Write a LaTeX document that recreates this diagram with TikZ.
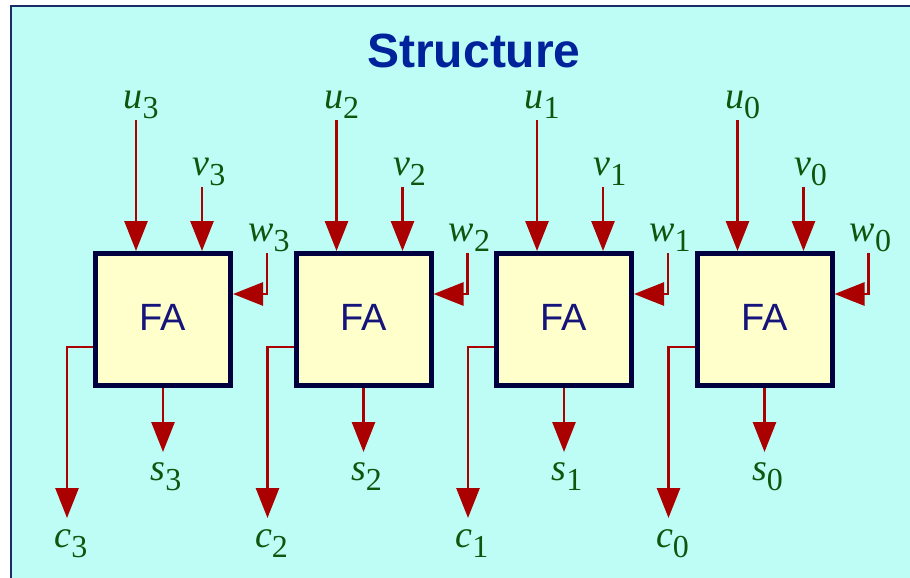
\documentclass[tikz,border=0pt]{standalone}
\usepackage{fontspec}
\setmainfont{Liberation Serif}
\setsansfont{Liberation Sans}
\usetikzlibrary{arrows.meta,positioning,calc}
\definecolor{panel}{HTML}{BDFDF6}
\definecolor{frameblue}{HTML}{1C2C66}
\definecolor{navy}{HTML}{000040}
\definecolor{boxfill}{HTML}{FFFFCC}
\definecolor{fatext}{HTML}{14147A}
\definecolor{titleblue}{HTML}{00229A}
\definecolor{wirered}{HTML}{AA0000}
\definecolor{siggreen}{HTML}{0E560E}
\newcommand{\sigl}[2]{\textit{#1}\raisebox{-0.27em}{\fontsize{32}{32}\selectfont #2}}
\tikzset{
  fabox/.style   ={draw=navy,line width=5,fill=boxfill,minimum width=135,
                   minimum height=132,inner sep=0,text=fatext,
                   font=\sffamily\fontsize{38}{40}\selectfont},
  siglbl/.style  ={inner sep=1,text=siggreen,font=\fontsize{38}{40}\selectfont},
  wire/.style    ={-{Triangle[length=30,width=23]},line width=2.7,draw=wirered},
  titletext/.style={text=titleblue,font=\sffamily\bfseries\fontsize{48}{50}\selectfont}
}
\begin{document}
\begin{tikzpicture}[x=1pt,y=1pt]
    \useasboundingbox (0,0) rectangle (910,-578);
    % panel
    \path[fill=panel,draw=frameblue,line width=2.5] (11,-6) rectangle (940,-610);
    \node[titletext] (ttl) at (474,-51) {Structure};
    % one full adder per bit, left to right: bit 3 .. bit 0
    \foreach \i/\k in {0/3,1/2,2/1,3/0} {
      \node[fabox] (fa\k) at (163+200.5*\i,-319.5) {\raisebox{4pt}{FA}};
      % inputs
      \coordinate (uin\k) at ($(fa\k.north)+(-27,131)$);
      \coordinate (vin\k) at ($(fa\k.north)+(39,64)$);
      \coordinate (win\k) at ($(fa\k.north)+(104,-2)$);
      \node[siglbl,above=0 of uin\k,xshift=5] (ulbl\k) {\sigl{u}{\k}};
      \node[siglbl,above=0 of vin\k,xshift=7] (vlbl\k) {\sigl{v}{\k}};
      \node[siglbl,above=0 of win\k,xshift=2] (wlbl\k) {\sigl{w}{\k}};
      \draw[wire] (uin\k) -- ($(fa\k.north)+(-27,0)$);
      \draw[wire] (vin\k) -- ($(fa\k.north)+(39,0)$);
      \draw[wire] (win\k) |- ([yshift=25.5]fa\k.east);
      % outputs
      \coordinate (sout\k) at ($(fa\k.south)+(0,-64)$);
      \coordinate (cout\k) at ($(fa\k.center)+(-96,-198.5)$);
      \node[siglbl,below=9 of sout\k,xshift=3] (slbl\k) {\sigl{s}{\k}};
      \node[siglbl,below=10 of cout\k,xshift=4] (clbl\k) {\sigl{c}{\k}};
      \draw[wire] (fa\k.south) -- (sout\k);
      \draw[wire] ([yshift=-27.5]fa\k.west) -| (cout\k);
    }
\end{tikzpicture}
\end{document}
